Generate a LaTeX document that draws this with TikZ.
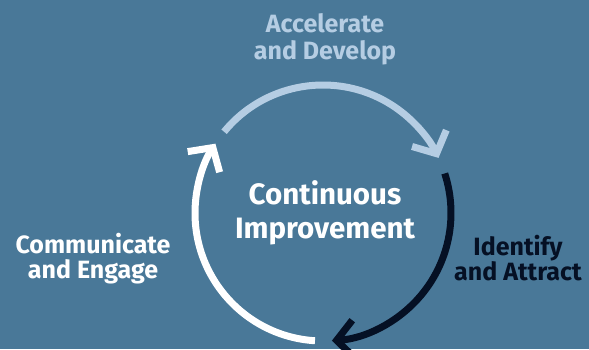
\documentclass[tikz,border=0pt]{standalone}
\usepackage{fontspec}
\setmainfont{Fira Sans}
\usetikzlibrary{arrows.meta}
\definecolor{bgblue}{RGB}{73,120,152}
\definecolor{lightblue}{RGB}{181,205,227}
\definecolor{darknavy}{RGB}{5,16,36}
\begin{document}
\begin{tikzpicture}[x=1pt,y=-1pt,
  cyclearc/.style={line width=7pt,line cap=butt,
    -{Straight Barb[length=17pt,width=38pt,line cap=butt,line join=miter]}},
  phase/.style={inner sep=0pt,align=center,font=\bfseries\fontsize{25}{25}\selectfont},
  hub/.style={inner sep=0pt,align=center,text=white,font=\bfseries\fontsize{29.5}{34}\selectfont}]
\fill[bgblue] (0,0) rectangle (589,349);
\useasboundingbox (0,0) rectangle (589,349);
\coordinate (c) at (323,213);
% arcs
\draw[cyclearc,lightblue] ([shift={(-140.6:128)}]c) coordinate (ls) arc[start angle=-140.6,end angle=-25.5,radius=128] coordinate (le);
\draw[cyclearc,darknavy] ([shift={(-18:128)}]c) coordinate (ds) arc[start angle=-18,end angle=86,radius=128] coordinate (de);
\draw[cyclearc,white] ([shift={(93.6:128)}]c) coordinate (ws) arc[start angle=93.6,end angle=212.8,radius=128] coordinate (we);
% labels
\node[hub] (ci) at (325,213) {Continuous\\Improvement};
\node[phase,text=lightblue,font=\bfseries\fontsize{25}{27}\selectfont] (ad) at (325,39) {Accelerate\\and Develop};
\node[phase,text=white] (ce) at (93,259) {Communicate\\and Engage};
\node[phase,text=darknavy] (ia) at (518,258) {Identify\\and Attract};
\end{tikzpicture}
\end{document}
